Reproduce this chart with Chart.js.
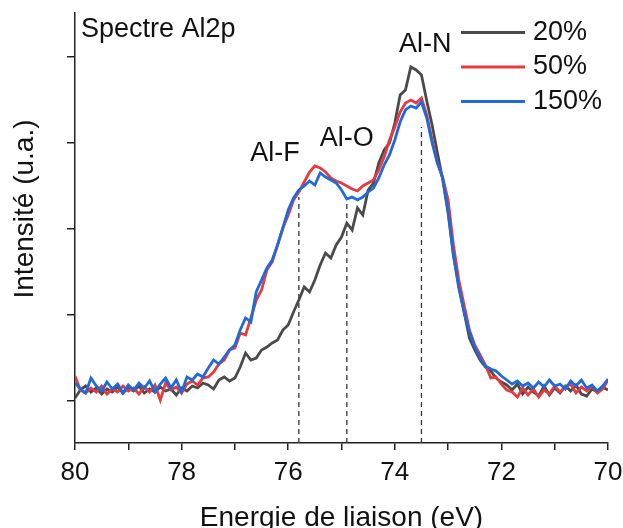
<!DOCTYPE html>
<html lang="fr">
<head>
<meta charset="utf-8">
<title>Spectre Al2p</title>
<script src="https://cdn.jsdelivr.net/npm/chart.js@4.4.1/dist/chart.umd.min.js"></script>
<style>
  html, body { margin: 0; padding: 0; background: #fff; }
  #grafico { display: block; }
</style>
</head>
<body>
<canvas id="grafico" width="623" height="528"></canvas>
<script>
// energie de liaison (eV), pas de 0.1
const ENERGY = [
  80.0, 79.9, 79.8, 79.7, 79.6, 79.5, 79.4, 79.3, 79.2, 79.1,
  79.0, 78.9, 78.8, 78.7, 78.6, 78.5, 78.4, 78.3, 78.2, 78.1,
  78.0, 77.9, 77.8, 77.7, 77.6, 77.5, 77.4, 77.3, 77.2, 77.1,
  77.0, 76.9, 76.8, 76.7, 76.6, 76.5, 76.4, 76.3, 76.2, 76.1,
  76.0, 75.9, 75.8, 75.7, 75.6, 75.5, 75.4, 75.3, 75.2, 75.1,
  75.0, 74.9, 74.8, 74.7, 74.6, 74.5, 74.4, 74.3, 74.2, 74.1,
  74.0, 73.9, 73.8, 73.7, 73.6, 73.5, 73.4, 73.3, 73.2, 73.1,
  73.0, 72.9, 72.8, 72.7, 72.6, 72.5, 72.4, 72.3, 72.2, 72.1,
  72.0, 71.9, 71.8, 71.7, 71.6, 71.5, 71.4, 71.3, 71.2, 71.1,
  71.0, 70.9, 70.8, 70.7, 70.6, 70.5, 70.4, 70.3, 70.2, 70.1,
  70.0
];

// intensités (u.a.)
const I_20 = [
  3, 11, 15, 9, 13, 7, 12, 9, 14, 8,
  13, 10, 15, 8, 12, 9, 14, 10, 12, 6,
  13, 10, 15, 13, 18, 16, 12, 21, 24, 20,
  23, 34, 48, 41, 43, 51, 54, 58, 61, 71,
  76, 89, 101, 114, 109, 121, 136, 148, 143, 156,
  164, 178, 171, 193, 186, 211, 218, 238, 251, 258,
  278, 306, 311, 334, 331, 326, 300, 276, 248, 221,
  188, 146, 116, 89, 63, 51, 41, 34, 30, 23,
  19, 16, 11, 17, 7, 14, 9, 5, 15, 6,
  13, 8, 15, 10, 16, 7, 5, 12, 9, 14,
  11
];
const I_50 = [
  25, 11, 8, 13, 9, 15, 7, 12, 9, 15,
  10, 13, 7, 14, 9, 16, 1, 18, 11, 14,
  8, 17, 20, 16, 23, 24, 29, 37, 41, 51,
  53, 68, 66, 83, 101, 111, 131, 139, 156, 173,
  186, 201, 209, 219, 229, 235, 233, 229, 223, 220,
  218, 215, 212, 210, 215, 218, 221, 231, 244, 261,
  274, 289, 298, 301, 298, 303, 286, 261, 238, 223,
  201, 156, 121, 96, 71, 56, 46, 36, 23, 24,
  17, 11, 9, 4, 13, 6, 12, 4, 11, 7,
  15, 9, 14, 17, 8, 14, 10, 15, 8, 12,
  21
];
const I_150 = [
  18, 12, 8, 23, 15, 10, 19, 12, 17, 8,
  16, 11, 18, 13, 20, 9, 17, 23, 13, 21,
  9, 24, 21, 27, 24, 33, 41, 37, 44, 51,
  56, 71, 83, 79, 109, 121, 133, 141, 156, 173,
  191, 203, 211, 215, 220, 216, 228, 224, 221, 218,
  211, 202, 204, 201, 204, 209, 213, 223, 236, 246,
  261, 279, 291, 295, 293, 299, 283, 258, 238, 223,
  190, 146, 113, 89, 69, 54, 43, 35, 32, 30,
  25, 21, 17, 20, 15, 18, 13, 19, 14, 21,
  15, 17, 12, 20, 15, 21, 13, 16, 10, 15,
  22
];

const SERIES_NAMES = ['20%', '50%', '150%'];
const SERIES_COLORS = ['#4a4a4a', '#e63a3f', '#1f6ad8'];

// pics (lignes pointillées + étiquettes)
const PEAK_NAMES = ['Al-F', 'Al-O', 'Al-N'];
const PEAK_E = [75.8, 74.9, 73.5];
const PEAK_TOP = [204, 201, 274];
const LABEL_E = [76.25, 74.9, 73.43];
const LABEL_Y = [247, 262, 356];

const X_TICKS = [70, 71, 72, 73, 74, 75, 76, 77, 78, 79, 80];
const Y_TICKS = [0, 86, 172, 258, 344];
const Y_MIN = -42;
const Y_MAX = 388;

Chart.defaults.font.family = "'Liberation Sans', Arial, sans-serif";
Chart.defaults.color = '#111';

function pontos(valores) {
  return ENERGY.map((e, i) => ({ x: e, y: valores[i] }));
}

const series = [I_20, I_50, I_150].map((valores, i) => ({
  label: SERIES_NAMES[i],
  data: pontos(valores),
  borderColor: SERIES_COLORS[i],
  borderWidth: 2.8,
  pointRadius: 0,
  tension: 0,
  order: 2 - i
}));

const pics = PEAK_E.map((e, i) => ({
  label: PEAK_NAMES[i],
  data: [{ x: e, y: Y_MIN }, { x: e, y: PEAK_TOP[i] }],
  borderColor: '#333',
  borderWidth: 1.3,
  borderDash: [5, 4],
  pointRadius: 0,
  order: 5
}));

// textes: étiquettes des pics, titre, légende, titre de l'axe y
const decor = {
  id: 'decor',
  afterDatasetsDraw(chart) {
    const { ctx, chartArea, scales: { x, y } } = chart;
    ctx.save();
    ctx.fillStyle = '#111';
    ctx.font = "27px 'Liberation Sans', Arial, sans-serif";
    ctx.textBaseline = 'middle';

    ctx.textAlign = 'center';
    PEAK_NAMES.forEach((nome, i) => {
      ctx.fillText(nome, x.getPixelForValue(LABEL_E[i]), y.getPixelForValue(LABEL_Y[i]));
    });

    ctx.textAlign = 'left';
    ctx.fillText('Spectre Al2p', chartArea.left + 6, chartArea.top + 17);

    SERIES_NAMES.forEach((nome, i) => {
      const ly = chartArea.top + 19.5 + i * 34.5;
      ctx.strokeStyle = SERIES_COLORS[i];
      ctx.lineWidth = 2.8;
      ctx.beginPath();
      ctx.moveTo(461, ly);
      ctx.lineTo(525, ly);
      ctx.stroke();
      ctx.fillText(nome, 533, ly);
    });

    ctx.font = "28px 'Liberation Sans', Arial, sans-serif";
    ctx.translate(25, chartArea.top + 196);
    ctx.rotate(-Math.PI / 2);
    ctx.textAlign = 'center';
    ctx.fillText('Intensité (u.a.)', 0, 0);
    ctx.restore();
  }
};

new Chart(document.getElementById('grafico'), {
  type: 'line',
  data: { datasets: [...series, ...pics] },
  options: {
    responsive: false,
    animation: false,
    layout: { padding: { top: 13, right: 15, bottom: 0, left: 0 } },
    plugins: {
      legend: { display: false },
      tooltip: { enabled: false }
    },
    scales: {
      x: {
        type: 'linear',
        reverse: true,
        min: 70,
        max: 80,
        afterBuildTicks: s => { s.ticks = X_TICKS.map(v => ({ value: v })); },
        afterFit: s => { s.height = 85; },
        ticks: {
          autoSkip: false,
          maxRotation: 0,
          padding: 7,
          color: '#111',
          font: { size: 26 },
          callback: v => (v % 2 === 0 ? v : '')
        },
        grid: { drawOnChartArea: false, drawTicks: true, tickLength: 7, color: '#222', lineWidth: 1.5 },
        border: { display: true, color: '#222', width: 1.5 },
        title: {
          display: true,
          text: 'Energie de liaison (eV)',
          color: '#111',
          font: { size: 28, lineHeight: 1 },
          padding: { top: 0, bottom: -4 }
        }
      },
      y: {
        min: Y_MIN,
        max: Y_MAX,
        afterBuildTicks: s => { s.ticks = Y_TICKS.map(v => ({ value: v })); },
        afterFit: s => { s.width = 75; },
        ticks: { display: false },
        grid: { drawOnChartArea: false, drawTicks: true, tickLength: 8, color: '#222', lineWidth: 1.5 },
        border: { display: true, color: '#222', width: 1.5 }
      }
    }
  },
  plugins: [decor]
});
</script>
</body>
</html>
